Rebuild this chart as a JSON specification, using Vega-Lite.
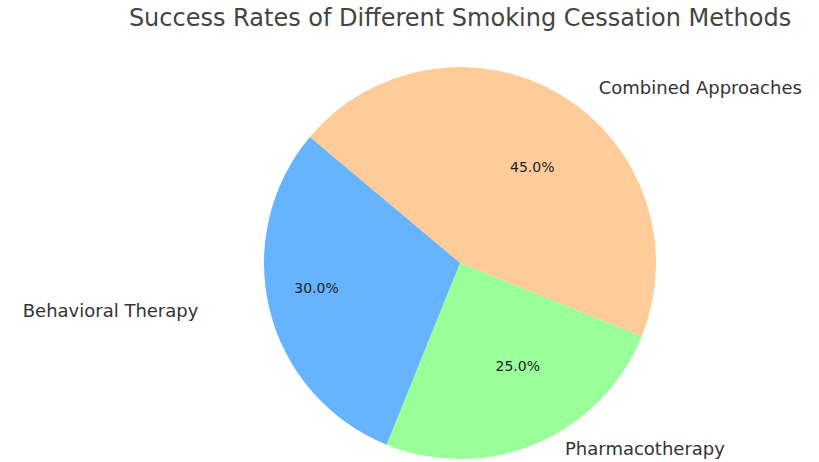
{
  "$schema": "https://vega.github.io/schema/vega-lite/v6.json",
  "width": 718,
  "height": 398,
  "autosize": {"type": "none"},
  "padding": {"top": 64, "left": 101, "right": 0, "bottom": 0},
  "background": "white",
  "config": {"view": {"stroke": null}},
  "title": {
    "text": "Success Rates of Different Smoking Cessation Methods",
    "font": "DejaVu Sans",
    "fontSize": 24,
    "fontWeight": "normal",
    "color": "#444444",
    "offset": 28,
    "anchor": "middle"
  },
  "data": {
    "values": [
      {"method": "Combined Approaches", "share": 0.45, "ord": 1},
      {"method": "Pharmacotherapy", "share": 0.25, "ord": 2},
      {"method": "Behavioral Therapy", "share": 0.30, "ord": 3}
    ]
  },
  "encoding": {
    "theta": {"field": "share", "type": "quantitative", "stack": true, "scale": {"range": [-0.8727, 5.4105]}},
    "order": {"field": "ord", "type": "quantitative", "sort": "ascending"}
  },
  "layer": [
    {
      "mark": {"type": "arc", "outerRadius": 196},
      "encoding": {
        "color": {
          "field": "method",
          "type": "nominal",
          "scale": {"domain": ["Behavioral Therapy", "Pharmacotherapy", "Combined Approaches"], "range": ["#66b3ff", "#99ff99", "#ffcc99"]},
          "legend": null
        }
      }
    },
    {
      "mark": {"type": "text", "radius": 215, "align": "left", "baseline": "middle", "dx": 28, "dy": 10, "font": "DejaVu Sans", "fontSize": 18, "color": "#333333"},
      "encoding": {"text": {"condition": {"test": "datum.method === 'Combined Approaches'", "field": "method"}, "value": ""}}
    },
    {
      "mark": {"type": "text", "radius": 215, "align": "left", "baseline": "middle", "dx": 21, "dy": -11, "font": "DejaVu Sans", "fontSize": 18, "color": "#333333"},
      "encoding": {"text": {"condition": {"test": "datum.method === 'Pharmacotherapy'", "field": "method"}, "value": ""}}
    },
    {
      "mark": {"type": "text", "radius": 215, "align": "right", "baseline": "middle", "dx": -53, "dy": -3, "font": "DejaVu Sans", "fontSize": 18, "color": "#333333"},
      "encoding": {"text": {"condition": {"test": "datum.method === 'Behavioral Therapy'", "field": "method"}, "value": ""}}
    },
    {
      "mark": {"type": "text", "radius": 117, "align": "center", "baseline": "middle", "dx": 12, "dy": 5, "font": "DejaVu Sans", "fontSize": 14, "color": "#222222"},
      "encoding": {"text": {"condition": {"test": "datum.method === 'Combined Approaches'", "field": "share", "format": ".1%"}, "value": ""}}
    },
    {
      "mark": {"type": "text", "radius": 117, "align": "center", "baseline": "middle", "dx": 12, "dy": -4, "font": "DejaVu Sans", "fontSize": 14, "color": "#222222"},
      "encoding": {"text": {"condition": {"test": "datum.method === 'Pharmacotherapy'", "field": "share", "format": ".1%"}, "value": ""}}
    },
    {
      "mark": {"type": "text", "radius": 117, "align": "center", "baseline": "middle", "dx": -30, "dy": -2, "font": "DejaVu Sans", "fontSize": 14, "color": "#222222"},
      "encoding": {"text": {"condition": {"test": "datum.method === 'Behavioral Therapy'", "field": "share", "format": ".1%"}, "value": ""}}
    }
  ]
}
